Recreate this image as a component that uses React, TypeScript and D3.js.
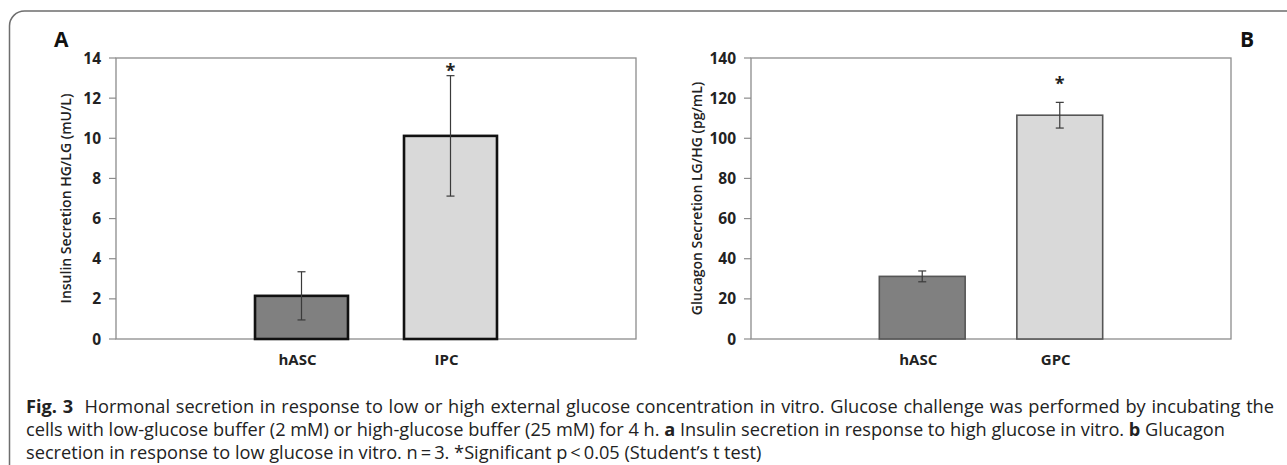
import React from 'react';
import * as d3 from 'd3';

// panel A - insulin
const insulinCategories = ['hASC', 'IPC'];
const insulinValues = [2.15, 10.12];
const insulinErrors = [1.2, 3.0];
const insulinTicks = [0, 2, 4, 6, 8, 10, 12, 14];

// panel B - glucagon
const glucagonCategories = ['hASC', 'GPC'];
const glucagonValues = [31.2, 111.5];
const glucagonErrors = [2.7, 6.4];
const glucagonTicks = [0, 20, 40, 60, 80, 100, 120, 140];

const significant = [false, true];
const barColors = ['#808080', '#d9d9d9'];

const captionLines = [
  [{ b: 'Fig. 3' }, { t: '\u00a0 Hormonal secretion in response to low or high external glucose concentration in vitro. Glucose challenge was performed by incubating the' }],
  [{ t: 'cells with low-glucose buffer (2 mM) or high-glucose buffer (25 mM) for 4 h. ' }, { b: 'a' }, { t: ' Insulin secretion in response to high glucose in vitro. ' }, { b: 'b' }, { t: ' Glucagon' }],
  [{ t: 'secretion in response to low glucose in vitro. n\u2009=\u20093. *Significant p\u2009<\u20090.05 (Student\u2019s t test)' }],
];
// justified paragraph: extra word gap per line
const captionWordSpacing = [1, 0, 0];

const font = '"Open Sans", sans-serif';

type PanelProps = {
  categories: string[];
  values: number[];
  errors: number[];
  ticks: number[];
  x0: number;
  x1: number;
  title: string;
  titleX: number;
  barStroke: string;
  barStrokeWidth: number;
  starOffset: number;
};

function Panel({ categories, values, errors, ticks, x0, x1, title, titleX, barStroke, barStrokeWidth, starOffset }: PanelProps) {
  const top = 58;
  const bottom = 339;
  const y = d3.scaleLinear().domain([0, ticks[ticks.length - 1]]).range([bottom, top]);
  const x = d3.scaleBand().domain(categories).range([x0, x1]).paddingInner(0.376).paddingOuter(0.933);
  const bw = x.bandwidth();
  return (
    <g>
      {/* plot frame */}
      <rect x={x0} y={top} width={x1 - x0} height={bottom - top} fill="none" stroke="#8c8c8c" strokeWidth={1.3} />
      {ticks.map((t) => (
        <g key={t}>
          <line x1={x0 - 7} x2={x0} y1={y(t)} y2={y(t)} stroke="#8c8c8c" strokeWidth={1.2} />
          <text x={x0 - 15} y={y(t)} dy="0.36em" textAnchor="end" fontFamily={font} fontWeight={700} fontSize={15.5} fill="#222">
            {t}
          </text>
        </g>
      ))}
      <text
        transform={`translate(${titleX},${(top + bottom) / 2}) rotate(-90)`}
        textAnchor="middle"
        dy="0.35em"
        fontFamily={font}
        fontWeight={600}
        fontSize={14}
        fill="#222"
      >
        {title}
      </text>
      {categories.map((c, i) => {
        const cx = x(c)! + bw / 2;
        const v = values[i];
        const e = errors[i];
        return (
          <g key={c}>
            <rect x={x(c)} y={y(v)} width={bw} height={y(0) - y(v)} fill={barColors[i]} stroke={barStroke} strokeWidth={barStrokeWidth} />
            <line x1={cx} x2={cx} y1={y(v + e)} y2={y(v - e)} stroke="#3a3a3a" strokeWidth={1.2} />
            <line x1={cx - 4} x2={cx + 4} y1={y(v + e)} y2={y(v + e)} stroke="#3a3a3a" strokeWidth={1.2} />
            <line x1={cx - 4} x2={cx + 4} y1={y(v - e)} y2={y(v - e)} stroke="#3a3a3a" strokeWidth={1.2} />
            {significant[i] && (
              <text x={cx} y={y(v + e) + starOffset} textAnchor="middle" fontFamily={font} fontWeight={700} fontSize={18} fill="#222">
                *
              </text>
            )}
            <text x={cx - 4} y={360} dy="0.35em" textAnchor="middle" fontFamily={font} fontWeight={700} fontSize={15} fill="#222">
              {c}
            </text>
          </g>
        );
      })}
    </g>
  );
}

export default function App() {
  return (
    <svg width={1287} height={465} style={{ position: 'absolute', left: 0, top: 0, background: '#fff' }}>
      <rect x={9.5} y={11} width={1400} height={600} rx={15} fill="#fff" stroke="#6e6e6e" strokeWidth={1.5} />
      <text x={54} y={47} fontFamily={font} fontWeight={700} fontSize={21} fill="#111">A</text>
      <text x={1240} y={47} fontFamily={font} fontWeight={700} fontSize={21} fill="#111">B</text>
      <Panel
        categories={insulinCategories}
        values={insulinValues}
        errors={insulinErrors}
        ticks={insulinTicks}
        x0={116}
        x1={636}
        title="Insulin Secretion HG/LG (mU/L)"
        titleX={66}
        barStroke="#111"
        barStrokeWidth={2.6}
        starOffset={1}
      />
      <Panel
        categories={glucagonCategories}
        values={glucagonValues}
        errors={glucagonErrors}
        ticks={glucagonTicks}
        x0={751}
        x1={1231}
        title="Glucagon Secretion LG/HG (pg/mL)"
        titleX={697}
        barStroke="#555"
        barStrokeWidth={1.6}
        starOffset={-12}
      />
      {captionLines.map((line, i) => (
        <text key={i} x={26} y={413 + i * 23} fontFamily={font} fontSize={18.2} wordSpacing={captionWordSpacing[i]} fill="#222">
          {line.map((s: any, j) =>
            s.b ? (
              <tspan key={j} fontWeight={700}>{s.b}</tspan>
            ) : (
              <tspan key={j}>{s.t}</tspan>
            )
          )}
        </text>
      ))}
    </svg>
  );
}
